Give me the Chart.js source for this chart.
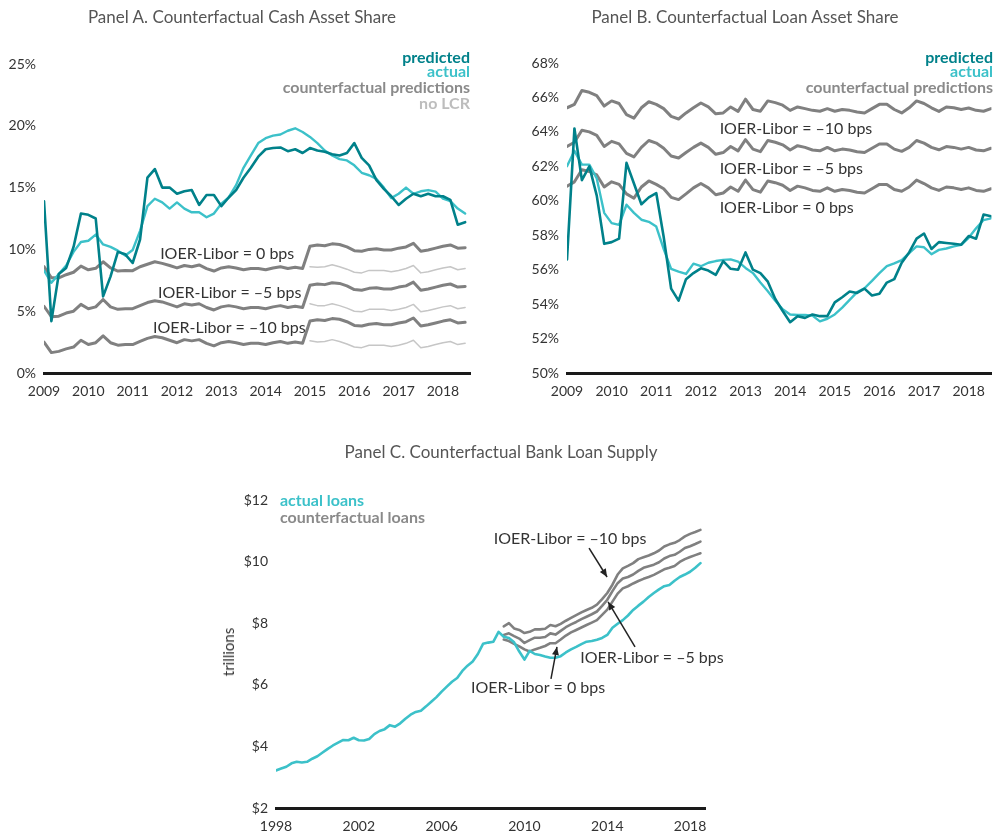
<!DOCTYPE html>
<html><head><meta charset="utf-8">
<script src="https://cdn.jsdelivr.net/npm/chart.js@4.4.1/dist/chart.umd.min.js"></script>
<style>
html,body{margin:0;padding:0;background:#fff;}
#root{position:relative;width:995px;height:839px;overflow:hidden;font-family:Lato,'Open Sans',sans-serif;}
canvas{position:absolute;}
.t{position:absolute;white-space:nowrap;}
.title{font-size:17px;color:#555;transform:translateX(-50%);line-height:20px;}
.leg{font-size:16px;font-weight:700;line-height:18px;}
</style></head><body>
<div id="root">
 <canvas id="cA" width="480" height="410" style="left:0px;top:0px"></canvas>
 <canvas id="cB" width="475" height="410" style="left:520px;top:0px"></canvas>
 <canvas id="cC" width="500" height="399" style="left:230px;top:440px"></canvas>
 <div class="t title" style="left:242px;top:7px">Panel A. Counterfactual Cash Asset Share</div>
 <div class="t title" style="left:745px;top:7px">Panel B. Counterfactual Loan Asset Share</div>
 <div class="t title" style="left:501px;top:442px">Panel C. Counterfactual Bank Loan Supply</div>
 <div class="t leg" style="right:525px;top:48px;color:#00818a">predicted</div>
 <div class="t leg" style="right:525px;top:62px;color:#3cc1c9">actual</div>
 <div class="t leg" style="right:525px;top:78px;color:#8a8a8a">counterfactual predictions</div>
 <div class="t leg" style="right:525px;top:94px;color:#bdbdbd">no LCR</div>
 <div class="t leg" style="right:2px;top:48px;color:#00818a">predicted</div>
 <div class="t leg" style="right:2px;top:62px;color:#3cc1c9">actual</div>
 <div class="t leg" style="right:2px;top:78px;color:#8a8a8a">counterfactual predictions</div>
 <div class="t leg" style="left:280px;top:491px;color:#3cc1c9">actual loans</div>
 <div class="t leg" style="left:280px;top:508px;color:#8a8a8a">counterfactual loans</div>
 <div class="t" style="left:228px;top:652px;font-size:15px;color:#333;transform:translate(-50%,-50%) rotate(-90deg)">trillions</div>
</div>
<script>
// ---------- DATA ----------
const shareDates = ["2009-01","2009-03","2009-05","2009-07","2009-09","2009-11",
"2010-01","2010-03","2010-05","2010-07","2010-09","2010-11",
"2011-01","2011-03","2011-05","2011-07","2011-09","2011-11",
"2012-01","2012-03","2012-05","2012-07","2012-09","2012-11",
"2013-01","2013-03","2013-05","2013-07","2013-09","2013-11",
"2014-01","2014-03","2014-05","2014-07","2014-09","2014-11",
"2015-01","2015-03","2015-05","2015-07","2015-09","2015-11",
"2016-01","2016-03","2016-05","2016-07","2016-09","2016-11",
"2017-01","2017-03","2017-05","2017-07","2017-09","2017-11",
"2018-01","2018-03","2018-05","2018-07"];
const noLcrStart = "2015-01";
const shareYearTicks = [2009,2010,2011,2012,2013,2014,2015,2016,2017,2018];

// Panel A: cash asset share (%)
const cashPredicted = [13.9,4.2,8.0,8.5,10.2,12.9, 12.8,12.5,6.2,7.8,9.8,9.6, 8.9,10.8,15.8,16.5,15.0,15.0, 14.5,14.7,14.8,13.6,14.4,14.4, 13.5,14.2,14.8,15.8,16.6,17.5, 18.1,18.2,18.25,17.95,18.1,17.8, 18.2,18.0,17.9,17.7,17.6,17.8, 18.6,17.4,16.8,15.6,14.9,14.3, 13.6,14.1,14.5,14.3,14.5,14.3, 14.3,14.0,12.0,12.2];
const cashActual = [8.3,7.3,8.0,8.7,9.8,10.6, 10.7,11.2,10.4,10.2,9.9,9.5, 9.95,11.5,13.5,14.1,13.8,13.3, 13.8,13.3,13.0,13.0,12.6,12.9, 13.7,14.2,15.2,16.6,17.6,18.6, 19.0,19.2,19.3,19.6,19.8,19.5, 19.1,18.6,18.0,17.6,17.3,17.2, 16.8,16.2,16.0,15.7,15.0,14.15, 14.5,15.0,14.5,14.7,14.8,14.67, 14.1,13.9,13.3,12.9];
const cashCf0 = [8.6,7.7,7.7,7.95,8.15,8.65, 8.35,8.47,9.0,8.5,8.25,8.3, 8.28,8.6,8.8,9.0,8.87,8.7, 8.5,8.7,8.6,8.74,8.45,8.25, 8.5,8.6,8.5,8.35,8.45,8.45, 8.35,8.5,8.6,8.45,8.55,8.45, 10.25,10.36,10.3,10.45,10.4,10.2, 9.9,9.85,10.0,10.05,9.95,9.95, 10.1,10.2,10.49,9.85,9.95,10.1, 10.25,10.36,10.1,10.14];
const cashCf5 = [5.4,4.55,4.6,4.85,5.0,5.55, 5.2,5.35,5.95,5.35,5.15,5.2, 5.2,5.45,5.7,5.85,5.75,5.55, 5.35,5.6,5.5,5.6,5.3,5.1, 5.35,5.45,5.35,5.2,5.3,5.3, 5.2,5.35,5.45,5.3,5.4,5.3, 7.1,7.2,7.15,7.3,7.25,7.05, 6.75,6.7,6.85,6.9,6.8,6.8, 6.95,7.05,7.35,6.7,6.8,6.95, 7.1,7.2,6.95,7.0];
const cashCf10 = [2.5,1.65,1.75,1.95,2.1,2.65, 2.3,2.45,3.0,2.45,2.25,2.3, 2.3,2.55,2.8,2.95,2.85,2.65, 2.45,2.7,2.6,2.7,2.4,2.2, 2.45,2.55,2.45,2.3,2.4,2.4, 2.3,2.45,2.55,2.4,2.5,2.4, 4.2,4.3,4.25,4.4,4.35,4.15, 3.85,3.8,3.95,4.0,3.9,3.9, 4.05,4.15,4.45,3.8,3.9,4.05, 4.2,4.3,4.05,4.1];
const cashNoLcr0 = [8.6,8.55,8.6,8.75,8.6,8.4, 8.15,8.1,8.3,8.3,8.3,8.2, 8.3,8.45,8.7,8.1,8.2,8.35, 8.5,8.6,8.35,8.45];
const cashNoLcr5 = [5.6,5.45,5.45,5.6,5.45,5.25, 5.0,4.95,5.15,5.15,5.15,5.05, 5.15,5.3,5.55,4.95,5.05,5.2, 5.35,5.45,5.2,5.3];
const cashNoLcr10 = [2.6,2.5,2.55,2.7,2.55,2.35, 2.1,2.05,2.25,2.25,2.25,2.15, 2.25,2.4,2.65,2.05,2.15,2.3, 2.45,2.55,2.3,2.4];

// Panel B: loan asset share (%)
const loanPredicted = [56.6,64.2,61.2,62.0,60.3,57.5, 57.6,57.8,62.2,61.0,59.8,60.2, 60.45,57.9,54.9,54.2,55.45,55.8, 56.08,55.95,55.7,56.5,56.05,56.0, 57.0,56.0,55.8,55.3,54.3,53.6, 52.95,53.3,53.2,53.4,53.3,53.3, 54.1,54.4,54.73,54.65,54.9,54.5, 54.6,55.25,55.45,56.4,57.0,57.8, 58.1,57.2,57.6,57.55,57.5,57.45, 57.95,57.8,59.2,59.1];
const loanActual = [62.0,62.9,62.1,62.1,61.3,59.3, 58.7,58.6,59.77,59.3,58.9,58.78, 58.5,57.2,56.05,55.89,55.75,56.35, 56.2,56.4,56.5,56.57,56.6,56.47, 56.1,55.8,55.25,54.75,54.2,53.7, 53.4,53.37,53.37,53.33,53.0,53.15, 53.4,53.8,54.25,54.7,54.92,55.35, 55.8,56.2,56.36,56.55,56.96,57.35, 57.3,56.9,57.15,57.23,57.35,57.44, 57.85,58.4,58.88,58.98];
const loanCf10 = [65.4,65.6,66.4,66.3,66.1,65.5, 65.8,65.65,65.0,64.8,65.4,65.75, 65.6,65.35,64.9,64.75,65.1,65.4, 65.68,65.45,65.05,65.1,65.45,65.19, 65.9,65.3,65.2,65.8,65.7,65.55, 65.25,65.45,65.35,65.25,65.2,65.35, 65.2,65.3,65.25,65.15,65.1,65.35, 65.6,65.6,65.3,65.1,65.4,65.8, 65.65,65.4,65.19,65.45,65.4,65.3, 65.39,65.25,65.2,65.35];
const loanCf5 = [63.15,63.4,64.1,64.0,63.8,63.15, 63.45,63.3,62.75,62.55,63.1,63.5, 63.35,63.05,62.6,62.48,62.8,63.1, 63.35,63.1,62.7,62.8,63.15,62.9, 63.55,63.0,62.85,63.5,63.4,63.25, 62.95,63.2,63.1,62.95,62.9,63.1, 62.9,63.0,62.95,62.85,62.8,63.05, 63.3,63.3,63.0,62.87,63.1,63.5, 63.35,63.1,62.96,63.15,63.1,63.0, 63.1,62.95,62.9,63.05];
const loanCf0 = [60.85,61.1,61.8,61.7,61.5,60.8, 61.1,60.95,60.4,60.15,60.8,61.15, 60.95,60.7,60.2,60.07,60.4,60.75, 61.0,60.75,60.35,60.45,60.8,60.55, 61.2,60.65,60.5,61.15,61.05,60.9, 60.6,60.85,60.75,60.6,60.55,60.75, 60.55,60.65,60.6,60.5,60.45,60.7, 60.95,60.95,60.65,60.55,60.8,61.2, 61.0,60.75,60.6,60.8,60.75,60.65, 60.75,60.6,60.55,60.7];

// Panel C: bank loans ($ trillions), quarterly
const loanDates = ["1998-01","1998-04","1998-07","1998-10","1999-01","1999-04","1999-07","1999-10",
"2000-01","2000-04","2000-07","2000-10","2001-01","2001-04","2001-07","2001-10",
"2002-01","2002-04","2002-07","2002-10","2003-01","2003-04","2003-07","2003-10",
"2004-01","2004-04","2004-07","2004-10","2005-01","2005-04","2005-07","2005-10",
"2006-01","2006-04","2006-07","2006-10","2007-01","2007-04","2007-07","2007-10",
"2008-01","2008-04","2008-07","2008-10","2009-01","2009-04","2009-07","2009-10",
"2010-01","2010-04","2010-07","2010-10","2011-01","2011-04","2011-07","2011-10",
"2012-01","2012-04","2012-07","2012-10","2013-01","2013-04","2013-07","2013-10",
"2014-01","2014-04","2014-07","2014-10","2015-01","2015-04","2015-07","2015-10",
"2016-01","2016-04","2016-07","2016-10","2017-01","2017-04","2017-07","2017-10",
"2018-01","2018-04","2018-07"];
const cfStart = "2009-01";
const loanYearTicks = [1998,2002,2006,2010,2014,2018];
const actualLoans = [3.22,3.28,3.34,3.45, 3.5,3.48,3.5,3.6, 3.68,3.8,3.92,4.03, 4.12,4.21,4.2,4.28, 4.2,4.19,4.24,4.4, 4.5,4.56,4.69,4.64, 4.75,4.9,5.03,5.12, 5.16,5.3,5.45,5.6, 5.78,5.94,6.1,6.22, 6.45,6.62,6.76,7.0, 7.33,7.37,7.4,7.72, 7.56,7.52,7.38,7.08, 6.82,7.1,7.0,6.97, 6.92,6.88,6.88,6.93, 7.05,7.15,7.23,7.32, 7.4,7.42,7.46,7.52, 7.62,7.85,7.98,8.1, 8.25,8.43,8.57,8.7, 8.85,8.98,9.1,9.2, 9.24,9.38,9.5,9.58, 9.67,9.8,9.95];
const cfLoans10 = [7.9,8.0,7.83,7.78, 7.68,7.72,7.8,7.8, 7.82,7.94,7.9,7.98, 8.08,8.17,8.26,8.35, 8.43,8.5,8.6,8.78, 8.98,9.25,9.58,9.78, 9.86,9.95,10.08,10.14, 10.2,10.27,10.36,10.49, 10.56,10.61,10.7,10.82, 10.9,10.96,11.03];
const cfLoans5 = [7.62,7.67,7.58,7.5, 7.36,7.45,7.53,7.53, 7.55,7.67,7.63,7.75, 7.87,7.96,8.04,8.13, 8.21,8.29,8.38,8.56, 8.76,9.04,9.3,9.45, 9.5,9.58,9.7,9.8, 9.85,9.9,9.98,10.1, 10.18,10.22,10.32,10.44, 10.5,10.57,10.65];
const cfLoans0 = [7.47,7.42,7.33,7.25, 7.15,7.08,7.15,7.2, 7.26,7.35,7.35,7.47, 7.6,7.7,7.78,7.86, 7.94,8.02,8.1,8.27, 8.44,8.7,8.96,9.13, 9.2,9.29,9.37,9.44, 9.5,9.57,9.66,9.75, 9.8,9.86,9.99,10.08, 10.15,10.21,10.27];

// ---------- HELPERS ----------
const toYear = s => +s.slice(0,4) + (+s.slice(5,7) - 1) / 12;
const pts = (dates, vals) => vals.map((v, i) => ({x: toYear(dates[i]), y: v}));
const fromDate = (dates, start) => dates.slice(dates.indexOf(start));

const C_PRED = '#00818a', C_ACT = '#3cc1c9', C_CF = '#808080', C_NOLCR = '#c6c6c6';
const AX_FONT = {family: 'Lato', size: 14};

const annot = {
  id: 'annot',
  afterDatasetsDraw(chart, args, opts) {
    const ctx = chart.ctx, xs = chart.scales.x, ys = chart.scales.y;
    ctx.save();
    (opts.items || []).forEach(it => {
      ctx.font = '16px Lato';
      ctx.fillStyle = '#333';
      ctx.textAlign = it.align || 'left';
      ctx.textBaseline = 'middle';
      ctx.fillText(it.text, xs.getPixelForValue(it.x), ys.getPixelForValue(it.y));
      if (it.arrow) {
        const [ax1, ay1, ax2, ay2] = it.arrow;
        const x1 = xs.getPixelForValue(ax1), y1 = ys.getPixelForValue(ay1);
        const x2 = xs.getPixelForValue(ax2), y2 = ys.getPixelForValue(ay2);
        ctx.strokeStyle = '#222'; ctx.fillStyle = '#222'; ctx.lineWidth = 1.5;
        ctx.beginPath(); ctx.moveTo(x1, y1); ctx.lineTo(x2, y2); ctx.stroke();
        const a = Math.atan2(y2 - y1, x2 - x1), L = 8, W = 3.5;
        ctx.beginPath();
        ctx.moveTo(x2, y2);
        ctx.lineTo(x2 - L*Math.cos(a) + W*Math.sin(a), y2 - L*Math.sin(a) - W*Math.cos(a));
        ctx.lineTo(x2 - L*Math.cos(a) - W*Math.sin(a), y2 - L*Math.sin(a) + W*Math.cos(a));
        ctx.closePath(); ctx.fill();
      }
    });
    ctx.restore();
  }
};

function options(o) {
  return {
    responsive: false, animation: false, devicePixelRatio: 1,
    layout: {padding: {top: o.padTop, right: o.padRight, left: 0, bottom: 0}},
    plugins: {legend: {display: false}, tooltip: {enabled: false}, annot: {items: o.annot}},
    elements: {point: {radius: 0}, line: {tension: 0, borderJoinStyle: 'round', borderCapStyle: 'round'}},
    scales: {
      x: {type: 'linear', min: o.xmin, max: o.xmax,
          grid: {display: false, drawTicks: false},
          border: {display: true, color: '#1a1a1a', width: 3},
          ticks: {autoSkip: false, maxRotation: 0, font: AX_FONT, color: '#333', padding: 10,
                  callback: v => String(v)},
          afterBuildTicks: s => { s.ticks = o.xticks.map(v => ({value: v})); },
          afterFit: s => { s.height = o.xH; }},
      y: {type: 'linear', min: o.ymin, max: o.ymax,
          grid: {display: false, drawTicks: false},
          border: {display: false},
          ticks: {stepSize: o.ystep, font: AX_FONT, color: '#333', padding: 8, callback: o.yfmt},
          afterFit: s => { s.width = o.yW; }}
    }
  };
}
const ds = (data, color, width) => ({data, borderColor: color, borderWidth: width, fill: false});

// Panel A
const noLcrDates = fromDate(shareDates, noLcrStart);
new Chart(document.getElementById('cA'), {
  type: 'line',
  data: {datasets: [
    ds(pts(shareDates, cashPredicted), C_PRED, 2.6),
    ds(pts(shareDates, cashActual), C_ACT, 2.4),
    ds(pts(shareDates, cashCf0), C_CF, 3),
    ds(pts(shareDates, cashCf5), C_CF, 3),
    ds(pts(shareDates, cashCf10), C_CF, 3),
    ds(pts(noLcrDates, cashNoLcr0), C_NOLCR, 1.5),
    ds(pts(noLcrDates, cashNoLcr5), C_NOLCR, 1.5),
    ds(pts(noLcrDates, cashNoLcr10), C_NOLCR, 1.5)
  ]},
  options: options({xmin: 2009, xmax: 2018.61, xticks: shareYearTicks, ymin: 0, ymax: 25, ystep: 5,
    yfmt: v => v + '%', yW: 44, xH: 37, padTop: 64, padRight: 10,
    annot: [
      {text: 'IOER-Libor = 0 bps', x: 2011.62, y: 9.63},
      {text: 'IOER-Libor = –5 bps', x: 2011.57, y: 6.47},
      {text: 'IOER-Libor = –10 bps', x: 2011.46, y: 3.64}
    ]}),
  plugins: [annot]
});

// Panel B
new Chart(document.getElementById('cB'), {
  type: 'line',
  data: {datasets: [
    ds(pts(shareDates, loanPredicted), C_PRED, 2.6),
    ds(pts(shareDates, loanActual), C_ACT, 2.4),
    ds(pts(shareDates, loanCf10), C_CF, 3),
    ds(pts(shareDates, loanCf5), C_CF, 3),
    ds(pts(shareDates, loanCf0), C_CF, 3)
  ]},
  options: options({xmin: 2009, xmax: 2018.51, xticks: shareYearTicks, ymin: 50, ymax: 68, ystep: 2,
    yfmt: v => v + '%', yW: 47, xH: 37, padTop: 63, padRight: 2,
    annot: [
      {text: 'IOER-Libor = –10 bps', x: 2012.42, y: 64.17},
      {text: 'IOER-Libor = –5 bps', x: 2012.42, y: 61.85},
      {text: 'IOER-Libor = 0 bps', x: 2012.42, y: 59.58}
    ]}),
  plugins: [annot]
});

// Panel C
const cfDates = fromDate(loanDates, cfStart);
new Chart(document.getElementById('cC'), {
  type: 'line',
  data: {datasets: [
    ds(pts(loanDates, actualLoans), C_ACT, 2.6),
    ds(pts(cfDates, cfLoans10), C_CF, 2.6),
    ds(pts(cfDates, cfLoans5), C_CF, 2.6),
    ds(pts(cfDates, cfLoans0), C_CF, 2.6)
  ]},
  options: options({xmin: 1998, xmax: 2018.72, xticks: loanYearTicks, ymin: 2, ymax: 12, ystep: 2,
    yfmt: v => '$' + v, yW: 46, xH: 31, padTop: 60, padRight: 25,
    annot: [
      {text: 'IOER-Libor = –10 bps', x: 2012.2, y: 10.73, align: 'center', arrow: [2013.12, 10.44, 2013.99, 9.5]},
      {text: 'IOER-Libor = –5 bps', x: 2016.16, y: 6.87, align: 'center', arrow: [2015.34, 7.23, 2014.04, 8.69]},
      {text: 'IOER-Libor = 0 bps', x: 2010.66, y: 5.9, align: 'center', arrow: [2011.28, 6.19, 2011.57, 7.23]}
    ]}),
  plugins: [annot]
});
</script>
</body></html>
